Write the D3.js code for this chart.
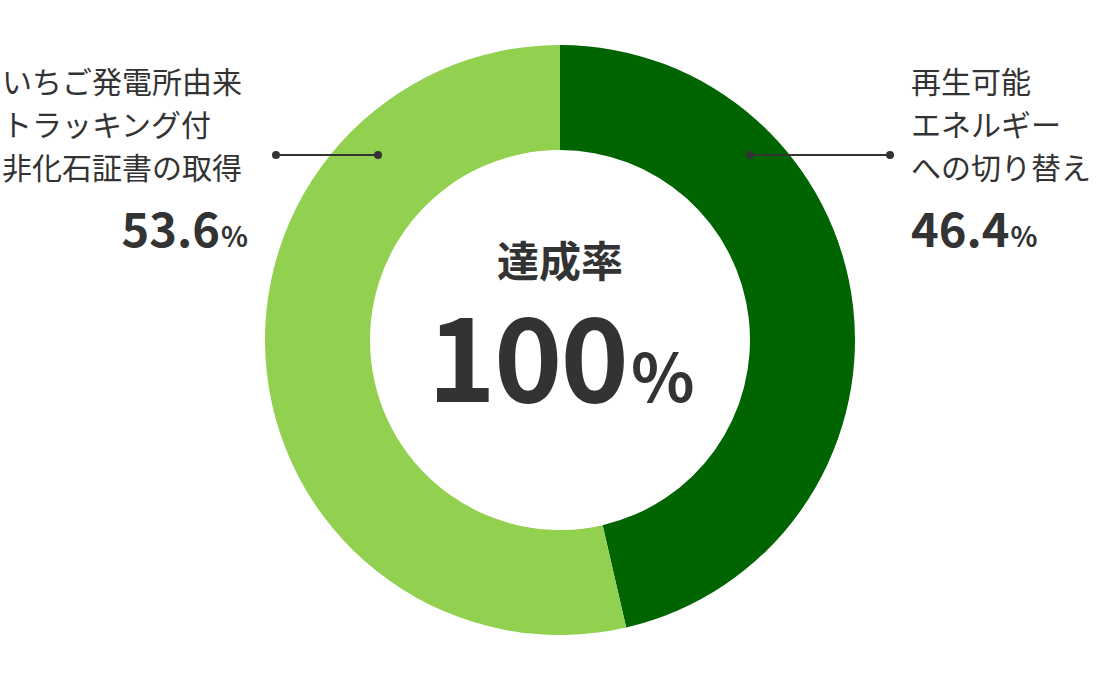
<!DOCTYPE html>
<html><head><meta charset="utf-8">
<script src="https://cdn.jsdelivr.net/npm/d3@7"></script>
<style>body{margin:0;background:#fff}svg{display:block}text{font-family:"Noto Sans CJK JP","Noto Sans",sans-serif;fill:#333}</style>
</head><body>
<svg id="c" width="1120" height="680"></svg>
<script>
const categories = ["再生可能エネルギーへの切り替え", "いちご発電所由来トラッキング付非化石証書の取得"];
const values = [46.4, 53.6];
const labelLines = [["再生可能","エネルギー","への切り替え"],["いちご発電所由来","トラッキング付","非化石証書の取得"]];
const colors = ["#006400", "#92d050"];
const centerTitle = "達成率";
const centerValue = 100;

const svg = d3.select("#c");
const cx = 560, cy = 340, rOut = 295, rIn = 190;
const g = svg.append("g").attr("transform", `translate(${cx},${cy})`);
const pie = d3.pie().sort(null).value(d => d)(values);
const arc = d3.arc().innerRadius(rIn).outerRadius(rOut);
g.selectAll("path").data(pie).join("path").attr("d", arc).attr("fill", (d,i) => colors[i]);

// center text
svg.append("text").attr("x", cx).attr("y", 258).attr("text-anchor","middle").attr("dominant-baseline","central")
  .attr("font-size", 42).attr("font-weight", 700).text(centerTitle);
const ct = svg.append("text").attr("x", cx + 1).attr("y", 402).attr("text-anchor","middle").attr("font-weight",700);
ct.append("tspan").attr("font-size", 116).attr("letter-spacing", -2).text(centerValue);
ct.append("tspan").attr("font-size", 66).attr("dx", 4).text("%");

// leader lines
const leaders = [
  {x1: 750, x2: 890, y: 155},
  {x1: 378, x2: 276, y: 155}
];
svg.selectAll("line.ld").data(leaders).join("line").attr("class","ld")
  .attr("x1", d => d.x1).attr("x2", d => d.x2).attr("y1", d => d.y).attr("y2", d => d.y)
  .attr("stroke", "#333").attr("stroke-width", 2);
leaders.forEach(d => {
  [d.x1, d.x2].forEach(x => svg.append("circle").attr("cx", x).attr("cy", d.y).attr("r", 4).attr("fill", "#333"));
});

// labels
const labelPos = [{x: 911, anchor: "start", vx: 911, vanchor: "start"}, {x: 2, anchor: "start", vx: 248, vanchor: "end"}];
labelLines.forEach((lines, i) => {
  const p = labelPos[i];
  lines.forEach((l, j) => {
    svg.append("text").attr("x", p.x).attr("y", 80 + j * 43).attr("dominant-baseline", "central")
      .attr("text-anchor", p.anchor).attr("font-size", 30).text(l);
  });
  const vt = svg.append("text").attr("x", p.vx).attr("y", 247).attr("text-anchor", p.vanchor).attr("font-weight", 700);
  vt.append("tspan").attr("font-size", 47).text(d3.format(".1f")(values[i]));
  vt.append("tspan").attr("font-size", 28).attr("dx", 1).text("%");
});
</script>
</body></html>
